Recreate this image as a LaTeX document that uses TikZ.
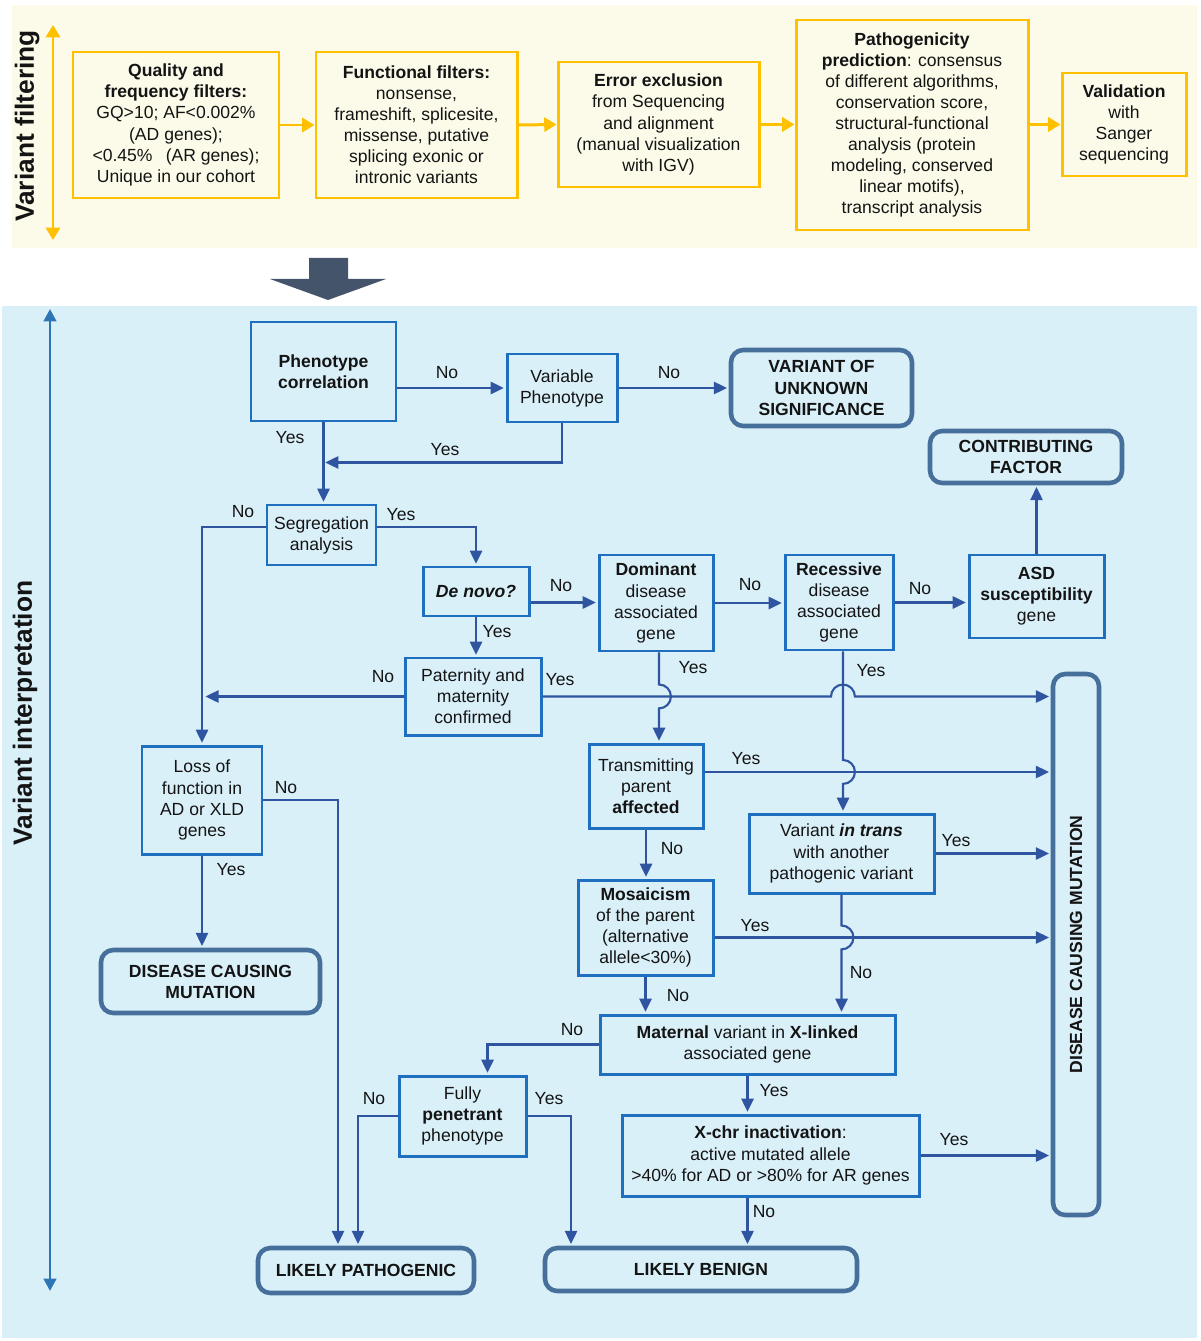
\documentclass[tikz,border=0pt]{standalone}
\usepackage{fontspec}
\setmainfont{Liberation Sans}
\usetikzlibrary{arrows.meta,calc}
\definecolor{boxblue}{RGB}{31,111,192}
\definecolor{arrowblue}{RGB}{47,84,160}
\definecolor{termblue}{RGB}{70,112,155}
\definecolor{bgblue}{RGB}{218,240,249}
\definecolor{bgyellow}{RGB}{252,251,234}
\definecolor{gold}{RGB}{255,192,0}
\definecolor{slatearrow}{RGB}{68,84,106}
\definecolor{sideblue}{RGB}{46,117,182}
\definecolor{txt}{RGB}{20,20,20}
\newcommand\mybox[7]{\node[#6, minimum width={(#4-#2)*0.02cm}, minimum height={(#5-#3)*0.02cm}] (#1) at ({(#2+#4)/2},{(#3+#5)/2}) {#7};}
\tikzset{
 dbox/.style={draw=boxblue, line width=1.7pt, align=center, inner sep=1pt, text=txt},
 tbox/.style={draw=termblue, line width=2.6pt, rounded corners=7pt, align=center, inner sep=1pt, font=\fontsize{10}{12}\selectfont\bfseries, text=txt},
 ybox/.style={draw=gold, line width=1.7pt, align=center, inner sep=1pt, text=txt},
 conn/.style={draw=arrowblue, line width=1.2pt, -{Triangle[length=7.5pt,width=7pt]}, shorten >=1pt},
 yarr/.style={draw=gold, line width=1.7pt, -{Triangle[length=7pt,width=8pt]}},
 lbl/.style={inner sep=0pt, text=txt},
}
\begin{document}
\begin{tikzpicture}[x=0.02cm,y=-0.02cm,font=\fontsize{10}{12}\selectfont]
\useasboundingbox (0,0) rectangle (1200,1341);
\fill[white] (0,0) rectangle (1200,1341);
\fill[bgyellow] (12,5) rectangle (1197,248);
\fill[bgblue] (2,306) rectangle (1197,1338);

% ---------- variant filtering ----------
\coordinate (ya) at (53,25);
\coordinate (yb) at (53,240);
\draw[yarr,{Triangle[length=7pt,width=8pt]}-{Triangle[length=7pt,width=8pt]}] (ya) -- (yb);
\node[rotate=90,font=\fontsize{15}{18}\selectfont\bfseries,text=txt] (vf) at (27,126) {Variant filtering};

\mybox{f1}{73}{52}{279}{198}{ybox}{\textbf{Quality and}\\\textbf{frequency filters:}\\GQ>10; AF<0.002\%\\(AD genes);\\<0.45\%\hspace{0.75em}(AR genes);\\Unique in our cohort}
\mybox{f2}{316}{52}{517}{198}{ybox}{\textbf{Functional filters:}\\nonsense,\\frameshift, splicesite,\\missense, putative\\splicing exonic or\\intronic variants}
\mybox{f3}{558}{62}{759}{187}{ybox}{\textbf{Error exclusion}\\from Sequencing\\and alignment\\(manual visualization\\with IGV)}
\mybox{f4}{796}{20}{1028}{230}{ybox}{\textbf{Pathogenicity}\\\textbf{prediction}: consensus\\of different algorithms,\\conservation score,\\structural-functional\\analysis (protein\\modeling, conserved\\linear motifs),\\transcript analysis}
\mybox{f5}{1062}{73}{1186}{176}{ybox}{\textbf{Validation}\\with\\Sanger\\sequencing}
\draw[yarr] (f1.east) -- (f2.west);
\draw[yarr] (f2.east) -- (f3.west);
\draw[yarr] (f3.east) -- (f3.east -| f4.west);
\draw[yarr] (f3.east -| f4.east) -- (f3.east -| f5.west);

% big arrow
\fill[slatearrow] (309,258) -- (348,258) -- (348,279) -- (386,279) -- (328,300) -- (270,279) -- (309,279) -- cycle;

% ---------- variant interpretation ----------
\coordinate (ba) at (50,309);
\coordinate (bb) at (50,1291);
\draw[draw=sideblue,line width=1.7pt,{Triangle[length=7pt,width=7pt]}-{Triangle[length=7pt,width=7pt]}] (ba) -- (bb);
\node[rotate=90,font=\fontsize{15}{18}\selectfont\bfseries,text=txt] (vi) at (25,713) {Variant interpretation};

\mybox{pheno}{251}{322}{396}{421}{dbox}{\textbf{Phenotype}\\\textbf{correlation}}
\mybox{var}{507}{354}{617}{422}{dbox}{Variable\\Phenotype}
\mybox{vus}{731}{350}{912}{426}{tbox}{VARIANT OF\\UNKNOWN\\SIGNIFICANCE}
\mybox{cf}{930}{431}{1122}{483}{tbox}{CONTRIBUTING\\FACTOR}
\mybox{seg}{267}{505}{376}{565}{dbox}{Segregation\\analysis}
\mybox{dn}{423}{567}{529}{616}{dbox}{\textbf{\textit{De novo?}}}
\mybox{dom}{599}{555}{713}{651}{dbox}{\textbf{Dominant}\\disease\\associated\\gene}
\mybox{rec}{785}{555}{893}{650}{dbox}{\textbf{Recessive}\\disease\\associated\\gene}
\mybox{asd}{969}{555}{1104}{638}{dbox}{\textbf{ASD}\\\textbf{susceptibility}\\gene}
\mybox{pat}{405}{658}{541}{735}{dbox}{Paternity and\\maternity\\confirmed}
\mybox{lof}{142}{746}{262}{854}{dbox}{Loss of\\function in\\AD or XLD\\genes}
\mybox{tr}{589}{744}{703}{828}{dbox}{Transmitting\\parent\\\textbf{affected}}
\mybox{it}{749}{814}{934}{893}{dbox}{Variant \textbf{\textit{in trans}}\\with another\\pathogenic variant}
\mybox{mos}{578}{880}{713}{975}{dbox}{\textbf{Mosaicism}\\of the parent\\(alternative\\allele<30\%)}
\mybox{dcml}{101}{950}{320}{1013}{tbox}{DISEASE CAUSING\\MUTATION}
\mybox{dcm}{1053}{674}{1099}{1215}{tbox}{}
\node[rotate=90,font=\fontsize{10}{12}\selectfont\bfseries,text=txt] (dcmt) at (dcm.center) {DISEASE CAUSING MUTATION};
\mybox{mat}{600}{1015}{895}{1074}{dbox}{\textbf{Maternal} variant in \textbf{X-linked}\\associated gene}
\mybox{fp}{399}{1076}{526}{1156}{dbox}{Fully\\\textbf{penetrant}\\phenotype}
\mybox{xc}{622}{1115}{919}{1196}{dbox}{\textbf{X-chr inactivation}:\\active mutated allele\\>40\% for AD or >80\% for AR genes}
\mybox{lp}{258}{1248}{474}{1293}{tbox}{LIKELY PATHOGENIC}
\mybox{lb}{545}{1248}{857}{1291}{tbox}{LIKELY BENIGN}

% connectors
\coordinate (j1) at ($(pheno.south)+(0,40)$);
\draw[conn] (pheno.east |- var.west) -- (var.west);
\draw[conn] (var.east) -- (var.east -| vus.west);
\draw[conn] (pheno.south) -- (pheno.south |- seg.north);
\draw[conn] (var.south) |- (j1);
\coordinate (sw) at ($(seg.west)+(0,-8)$);
\coordinate (se) at ($(seg.east)+(0,-8)$);
\draw[conn] (sw) -| (lof.north);
\draw[conn] (se) -| (dn.north);
\coordinate (dne) at ($(dn.east)+(0,11)$);
\draw[conn] (dne) -- (dne -| dom.west);
\draw[conn] (dn.south) -- (dn.south |- pat.north);
\draw[conn] (dom.east) -- (dom.east -| rec.west);
\draw[conn] (rec.east) -- (rec.east -| asd.west);
\draw[conn] (asd.north) -- (asd.north |- cf.south);
\draw[conn,shorten >=2pt] (pat.west) -- (pat.west -| lof.north);
\coordinate (te) at ($(tr.east)+(0,-14)$);
\coordinate (me) at ($(mos.east)+(0,10)$);
\coordinate (dv) at ($(dom.south)+(3,0)$);
\coordinate (rv) at ($(rec.south)+(4,0)$);
% paternity yes with hop over recessive line
\draw[conn] (pat.east) -- ($(rv |- pat.east)+(-12,0)$) arc[start angle=180,end angle=0,radius=6.8pt] -- (pat.east -| dcm.west);
% dominant yes with hop
\draw[conn] (dv) -- ($(dv |- pat.east)+(0,-12)$) arc[start angle=90,end angle=-90,radius=6.8pt] -- (dv |- tr.north);
% recessive yes with hop
\draw[conn] (rv) -- ($(rv |- te)+(0,-12)$) arc[start angle=90,end angle=-90,radius=6.8pt] -- (rv |- it.north);
\draw[conn] (te) -- (te -| dcm.west);
\draw[conn] (tr.south) -- (tr.south |- mos.north);
\draw[conn] (it.east) -- (it.east -| dcm.west);
\draw[conn] (it.south) -- ($(it.south |- me)+(0,-12)$) arc[start angle=90,end angle=-90,radius=6.8pt] -- (it.south |- mat.north);
\draw[conn] (me) -- (me -| dcm.west);
\draw[conn] (mos.south) -- (mos.south |- mat.north);
\draw[conn] (mat.west) -| ($(fp.north)+(25,0)$);
\draw[conn] (mat.south) -- (mat.south |- xc.north);
\draw[conn] (xc.east) -- (xc.east -| dcm.west);
\draw[conn] (mat.south |- xc.south) -- (mat.south |- lb.north);
\draw[conn] (lof.south) -- (lof.south |- dcml.north);
\draw[conn] (lof.east) -| ($(lp.north)+(-28,0)$);
\draw[conn] (fp.west) -| ($(lp.north)+(-8,0)$);
\draw[conn] (fp.east) -| ($(lb.north)+(-130,0)$);

% labels
\node[lbl] (l1) at (447,373) {No};
\node[lbl] (l2) at (669,373) {No};
\node[lbl] (l3) at (290,438) {Yes};
\node[lbl] (l4) at (445,450) {Yes};
\node[lbl] (l5) at (243,512) {No};
\node[lbl] (l6) at (401,515) {Yes};
\node[lbl] (l7) at (561,586) {No};
\node[lbl] (l8) at (497,632) {Yes};
\node[lbl] (l9) at (750,585) {No};
\node[lbl] (l10) at (920,589) {No};
\node[lbl] (l11) at (383,677) {No};
\node[lbl] (l12) at (560,680) {Yes};
\node[lbl] (l13) at (693,668) {Yes};
\node[lbl] (l14) at (871,671) {Yes};
\node[lbl] (l15) at (746,759) {Yes};
\node[lbl] (l16) at (672,849) {No};
\node[lbl] (l17) at (956,841) {Yes};
\node[lbl] (l18) at (861,973) {No};
\node[lbl] (l19) at (755,926) {Yes};
\node[lbl] (l20) at (678,996) {No};
\node[lbl] (l21) at (572,1030) {No};
\node[lbl] (l22) at (774,1091) {Yes};
\node[lbl] (l23) at (231,870) {Yes};
\node[lbl] (l24) at (286,788) {No};
\node[lbl] (l25) at (374,1099) {No};
\node[lbl] (l26) at (549,1099) {Yes};
\node[lbl] (l27) at (954,1140) {Yes};
\node[lbl] (l28) at (764,1212) {No};
\end{tikzpicture}
\end{document}
